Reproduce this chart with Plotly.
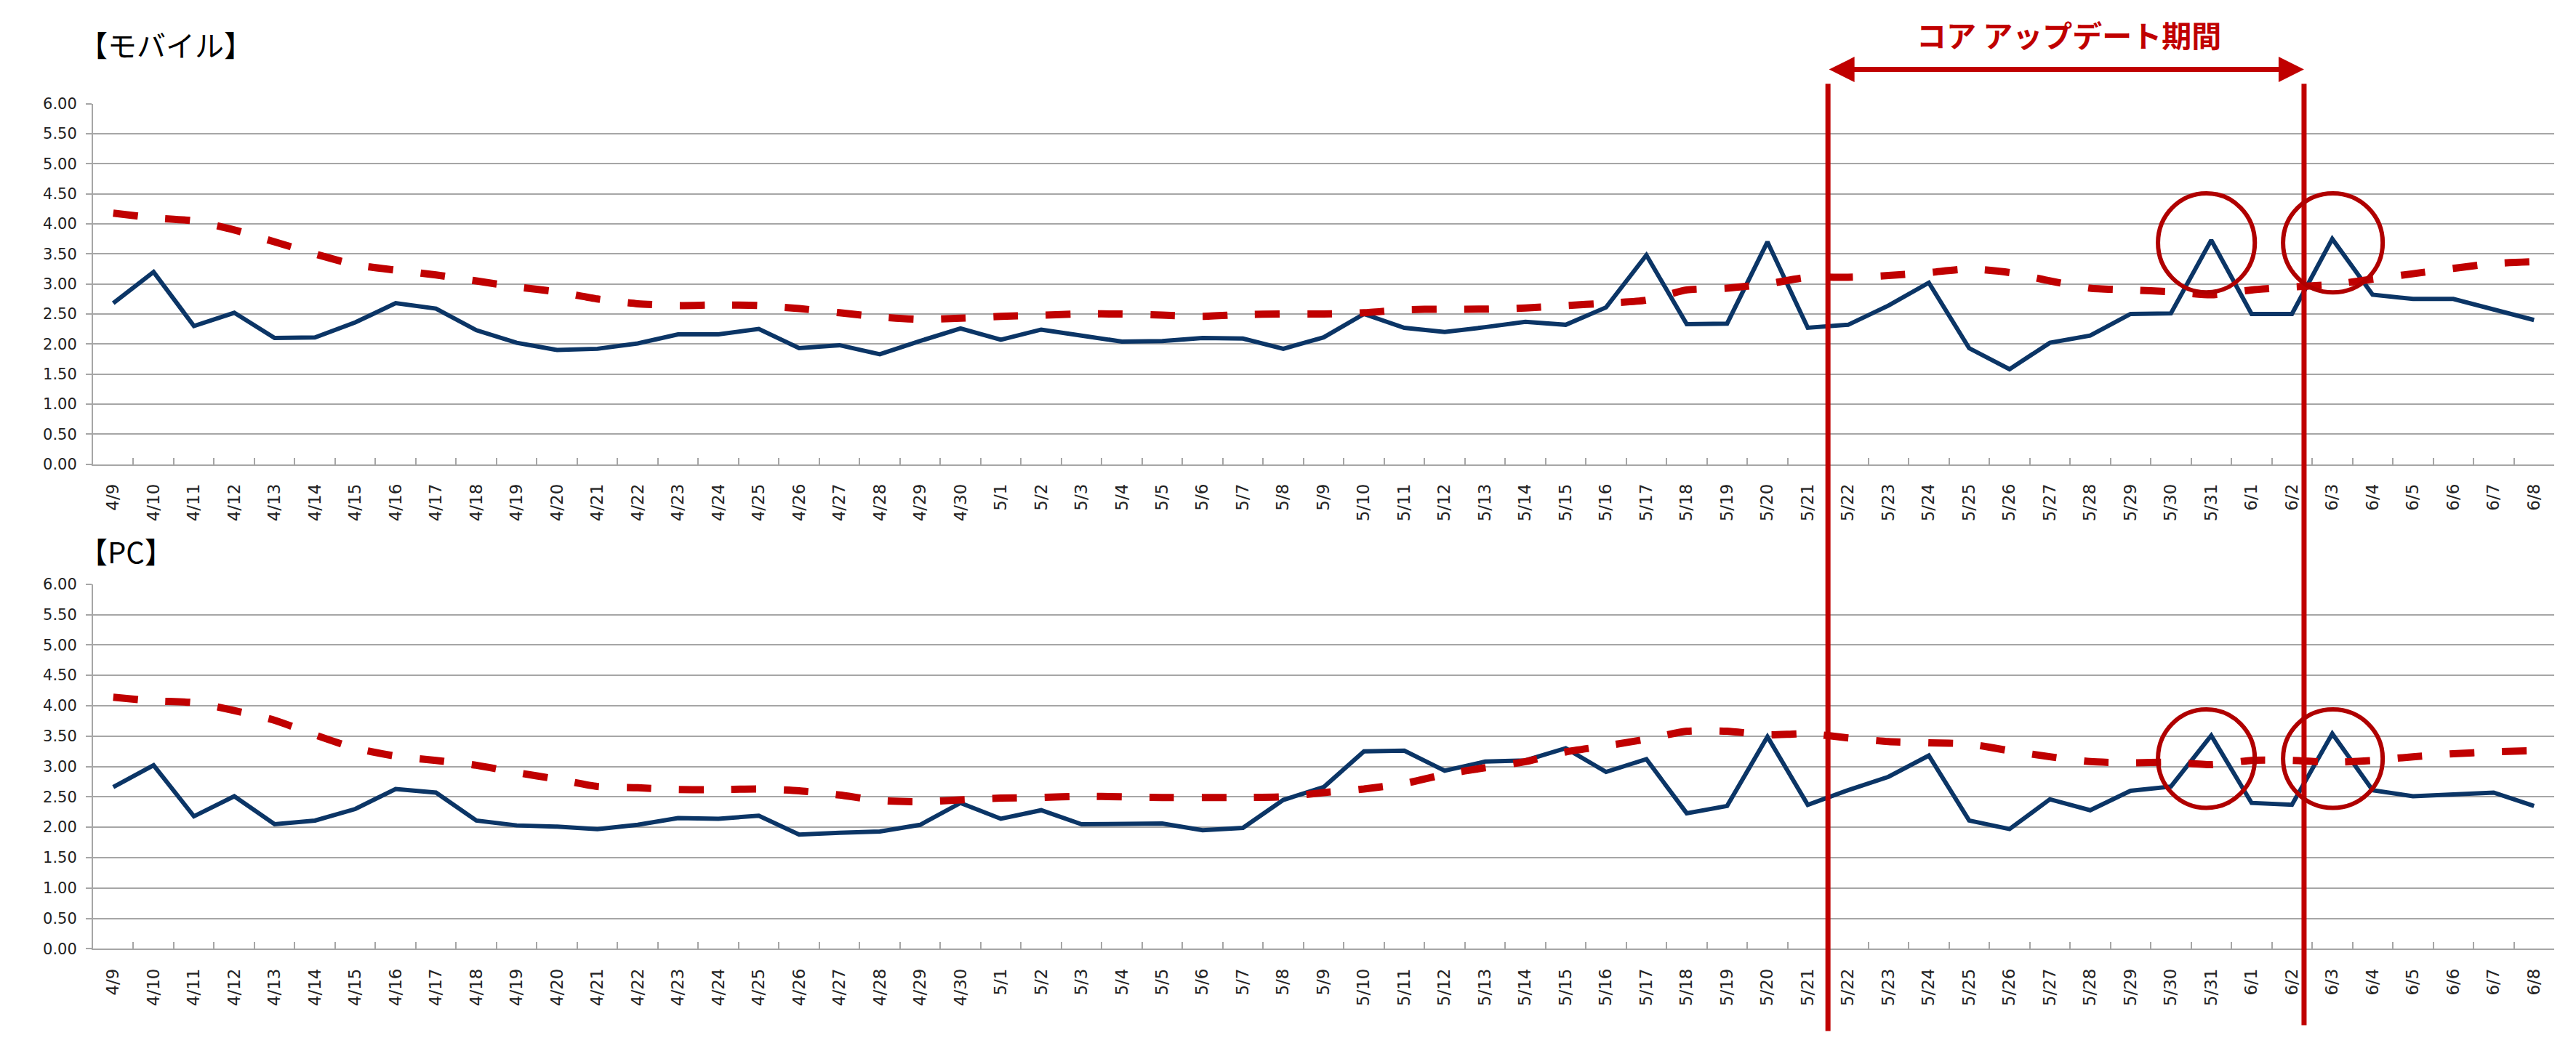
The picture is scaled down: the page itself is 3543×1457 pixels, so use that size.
import plotly.graph_objects as go

dates = (["4/%d" % d for d in range(9, 31)] + ["5/%d" % d for d in range(1, 32)]
         + ["6/%d" % d for d in range(1, 9)])

mobile_rank = [2.68, 3.20, 2.30, 2.52, 2.10, 2.11, 2.36, 2.68, 2.59, 2.23, 2.02, 1.90, 1.92, 2.01,
               2.16, 2.16, 2.25, 1.93, 1.98, 1.83, 2.05, 2.26,
               2.07, 2.24, 2.14, 2.04, 2.05, 2.10, 2.09, 1.92, 2.11, 2.50,
               2.27, 2.20, 2.28, 2.37, 2.32, 2.61, 3.48, 2.33, 2.34, 3.70,
               2.27, 2.32, 2.64, 3.02, 1.93, 1.58, 2.02, 2.14, 2.50, 2.51, 3.73,
               2.50, 2.50, 3.75, 2.82, 2.75, 2.75, 2.57, 2.40]
mobile_avg = [4.18, 4.10, 4.05, 3.90, 3.70, 3.50, 3.32, 3.23, 3.15, 3.05, 2.95, 2.87, 2.75, 2.67,
              2.64, 2.65, 2.64, 2.59, 2.52, 2.45, 2.41, 2.43,
              2.46, 2.48, 2.50, 2.50, 2.48, 2.46, 2.49, 2.50, 2.50, 2.52,
              2.57, 2.58, 2.58, 2.60, 2.64, 2.68, 2.73, 2.90, 2.93, 3.00,
              3.11, 3.11, 3.14, 3.19, 3.25, 3.19, 3.05, 2.93, 2.90, 2.87, 2.82,
              2.90, 2.95, 2.99, 3.08, 3.17, 3.26, 3.34, 3.37]
pc_rank = [2.66, 3.02, 2.18, 2.51, 2.05, 2.11, 2.30, 2.63, 2.57, 2.11, 2.03, 2.01, 1.97, 2.04,
           2.15, 2.14, 2.19, 1.88, 1.91, 1.93, 2.04, 2.40,
           2.14, 2.28, 2.05, 2.06, 2.06, 1.95, 1.99, 2.45, 2.66, 3.25,
           3.26, 2.93, 3.08, 3.10, 3.30, 2.91, 3.12, 2.23, 2.35, 3.49,
           2.37, 2.61, 2.83, 3.18, 2.11, 1.97, 2.46, 2.28, 2.60, 2.67, 3.51,
           2.40, 2.37, 3.54, 2.61, 2.51, 2.54, 2.57, 2.35]
pc_avg = [4.14, 4.08, 4.05, 3.92, 3.76, 3.52, 3.30, 3.17, 3.10, 3.02, 2.90, 2.79, 2.67, 2.65,
          2.62, 2.62, 2.63, 2.60, 2.53, 2.44, 2.42, 2.45,
          2.48, 2.49, 2.51, 2.50, 2.49, 2.49, 2.49, 2.50, 2.57, 2.63,
          2.72, 2.87, 2.98, 3.08, 3.24, 3.34, 3.45, 3.58, 3.58, 3.52,
          3.54, 3.47, 3.41, 3.39, 3.37, 3.26, 3.16, 3.08, 3.06, 3.07, 3.03,
          3.10, 3.10, 3.07, 3.10, 3.16, 3.21, 3.24, 3.26]

panel_titles = ["【モバイル】", "【PC】"]
period_label = "コア アップデート期間"

BLUE = "#0b3566"
RED = "#c00000"
CIRCLE = "#b00000"
GRID = "#a6a6a6"
W, H = 3543, 1457

fig = go.Figure()
for rank, avg, xa, ya in [(mobile_rank, mobile_avg, "x", "y"), (pc_rank, pc_avg, "x2", "y2")]:
    fig.add_trace(go.Scatter(x=dates, y=rank, mode="lines", xaxis=xa, yaxis=ya,
                             line=dict(color=BLUE, width=6), showlegend=False))
    fig.add_trace(go.Scatter(x=dates, y=avg, mode="lines", xaxis=xa, yaxis=ya,
                             line=dict(color=RED, width=10, dash="34px,38px",
                                       shape="spline", smoothing=0.6),
                             showlegend=False))

xdom = [128 / W, 3513 / W]
xcommon = dict(type="category", range=[-0.5, 60.5], domain=xdom, showline=True,
               linecolor=GRID, linewidth=2, showgrid=False, ticks="inside",
               tickson="boundaries", ticklen=9, tickcolor=GRID, tickwidth=2,
               tickangle=-90, tickmode="linear", tick0=0, dtick=1,
               tickfont=dict(family="DejaVu Sans", size=23, color="#222222"),
               ticklabelstandoff=16, fixedrange=True)
ycommon = dict(range=[0, 6], dtick=0.5, tick0=0, tickformat=".2f", showline=True,
               linecolor=GRID, linewidth=2, showgrid=True, gridcolor=GRID, gridwidth=2,
               zeroline=False, ticks="outside", ticklen=8, tickcolor=GRID, tickwidth=2,
               tickfont=dict(family="DejaVu Sans", size=21, color="#222222"),
               ticklabelstandoff=8)

fig.update_layout(
    width=W, height=H, margin=dict(l=0, r=0, t=0, b=0),
    paper_bgcolor="white", plot_bgcolor="white",
    xaxis=dict(xcommon, anchor="y"),
    yaxis=dict(ycommon, domain=[1 - 637 / H, 1 - 133 / H], anchor="x"),
    xaxis2=dict(xcommon, anchor="y2"),
    yaxis2=dict(ycommon, domain=[1 - 1315 / H, 1 - 805 / H], anchor="x2"),
)

# panel titles
fig.add_annotation(text=panel_titles[0], xref="paper", yref="paper", x=106 / W, y=1 - 50 / H,
                   xanchor="left", yanchor="middle", showarrow=False,
                   font=dict(family="Noto Sans CJK JP", size=40, color="black"))
fig.add_annotation(text=panel_titles[1], xref="paper", yref="paper", x=106 / W, y=1 - 758 / H,
                   xanchor="left", yanchor="middle", showarrow=False,
                   font=dict(family="Noto Sans CJK JP", size=40, color="black"))

# core update period markers
start_x, end_x = 42.5, 54.3
fig.add_shape(type="line", xref="x", yref="paper", x0=start_x, x1=start_x,
              y0=1 - 1430 / H, y1=1 - 105 / H, line=dict(color=RED, width=7), layer="above")
fig.add_shape(type="line", xref="x", yref="paper", x0=end_x, x1=end_x,
              y0=1 - 1422 / H, y1=1 - 105 / H, line=dict(color=RED, width=7), layer="above")
fig.add_annotation(x=end_x, y=1 - 85 / H, xref="x", yref="paper", ax=start_x, ay=0,
                   axref="x", ayref="pixel", text="", showarrow=True, arrowhead=2,
                   arrowside="end+start", arrowwidth=7, arrowsize=1, arrowcolor=RED,
                   standoff=0, startstandoff=0)
fig.add_annotation(text=period_label, xref="paper", yref="paper", x=2845 / W, y=1 - 36 / H,
                   xanchor="center", yanchor="middle", showarrow=False,
                   font=dict(family="Noto Sans CJK JP", size=41, color=RED, weight="bold"))

# highlight ellipses
for xr, yr, (ylo, yhi) in [("x", "y", (2.86, 4.51)), ("x2", "y2", (2.32, 3.94))]:
    for (xlo, xhi) in [(50.68, 53.08), (53.78, 56.25)]:
        fig.add_shape(type="circle", xref=xr, yref=yr, x0=xlo, x1=xhi, y0=ylo, y1=yhi,
                      line=dict(color=CIRCLE, width=6), layer="above")

fig.write_html("out.html")
